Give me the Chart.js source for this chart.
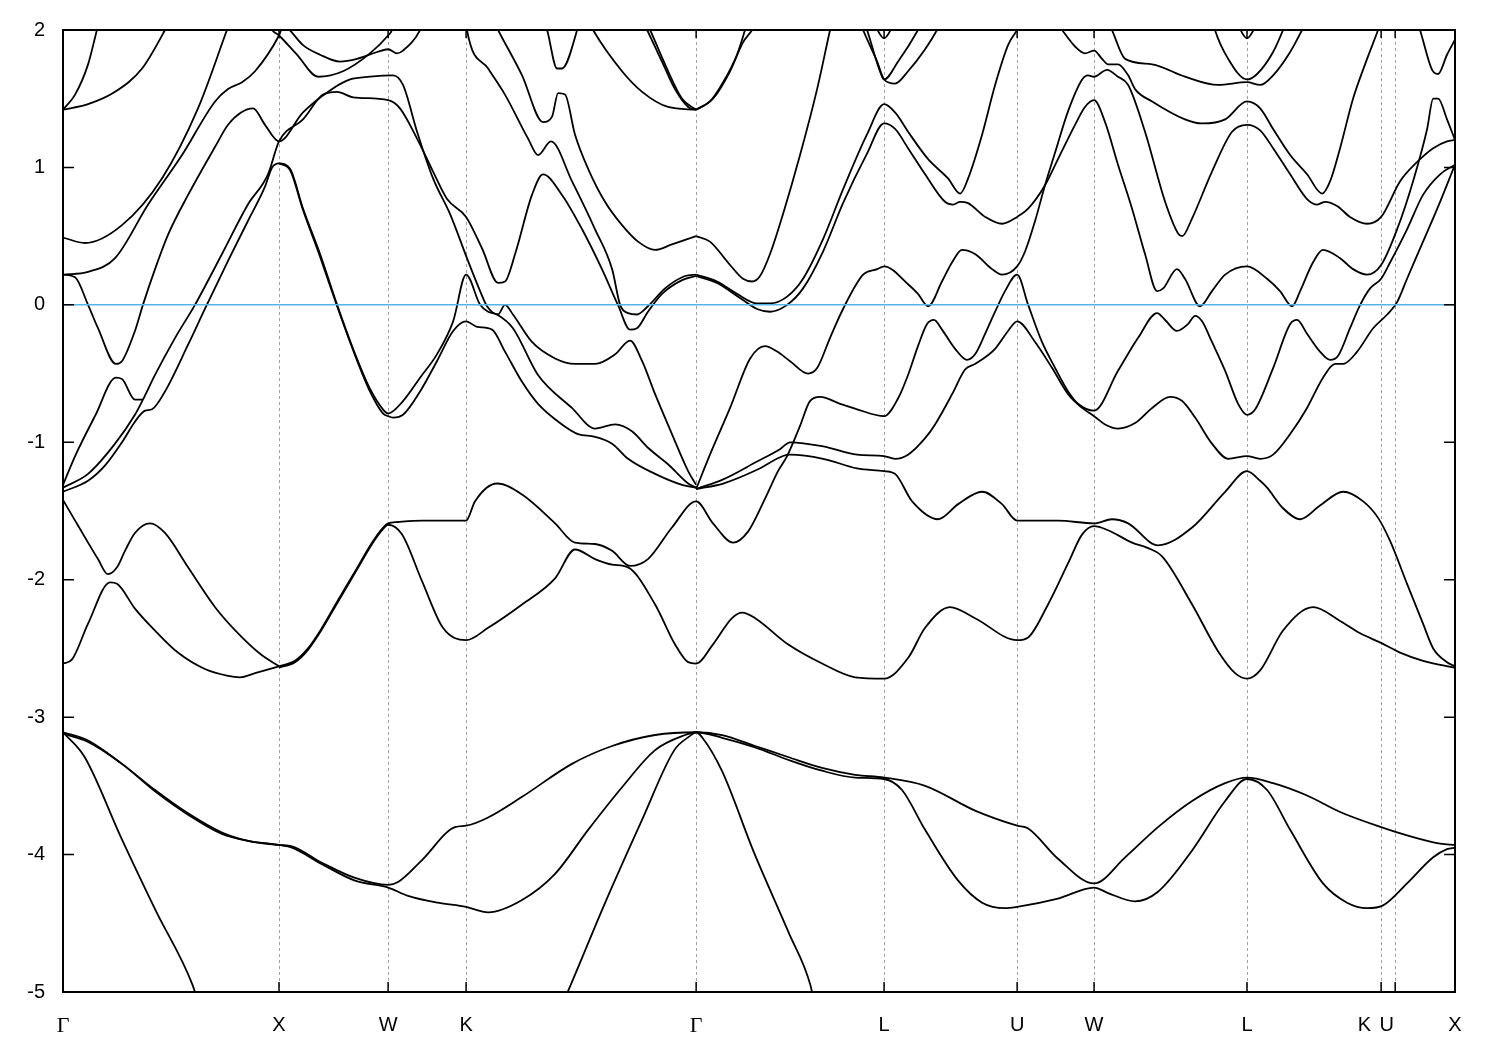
<!DOCTYPE html>
<html>
<head>
<meta charset="utf-8">
<script src="https://cdn.jsdelivr.net/npm/chart.js@4/dist/chart.umd.min.js"></script>
<style>
  html, body { margin: 0; padding: 0; background: #fff; }
  canvas { display: block; }
</style>
</head>
<body>
<canvas id="bands" width="1500" height="1050"></canvas>
<script>
// k path (2pi/a) and its labels
const kTicks = [0, 1.0, 1.505, 1.866, 2.931, 3.801, 4.417, 4.773, 5.481, 6.102, 6.167, 6.444];
const kLabels = ['Γ', 'X', 'W', 'K', 'Γ', 'L', 'U', 'W', 'L', 'K      ', 'U   ', 'X'];
const eTicks = [-5, -4, -3, -2, -1, 0, 1, 2];
const fermi = [[0, 0], [6.444, 0]];

// bands, [k, E(eV)]
const deep1 = [[0,-3.11],[0.10,-3.29],[0.27,-3.88],[0.43,-4.41],[0.60,-4.95],[0.63,-5.10]];
const deep2 = [[2.30,-5.13],[2.35,-4.95],[2.51,-4.35],[2.68,-3.75],[2.83,-3.24],[2.90,-3.14],[2.931,-3.11],[2.96,-3.15],[3.05,-3.39],[3.20,-3.99],[3.36,-4.57],[3.46,-4.95],[3.48,-5.10]];
const low1 = [[0,-3.11],[0.116,-3.17],[0.273,-3.34],[0.426,-3.53],[0.579,-3.70],[0.736,-3.84],[0.856,-3.90],[1.0,-3.93],[1.060,-3.94],[1.199,-4.06],[1.352,-4.17],[1.505,-4.22],[1.551,-4.20],[1.662,-4.04],[1.815,-3.80],[1.866,-3.79],[1.968,-3.73],[2.125,-3.58],[2.356,-3.34],[2.542,-3.21],[2.741,-3.13],[2.931,-3.11],[3.051,-3.13],[3.204,-3.21],[3.356,-3.29],[3.514,-3.37],[3.667,-3.42],[3.801,-3.44],[3.991,-3.50],[4.222,-3.68],[4.417,-3.79],[4.468,-3.81],[4.606,-4.03],[4.773,-4.21],[4.917,-4.02],[5.069,-3.80],[5.227,-3.61],[5.380,-3.48],[5.481,-3.44],[5.602,-3.48],[5.759,-3.57],[5.912,-3.69],[6.102,-3.80],[6.222,-3.86],[6.375,-3.92],[6.444,-3.93]];
const low2 = [[0,-3.12],[0.116,-3.18],[0.273,-3.34],[0.426,-3.54],[0.579,-3.71],[0.736,-3.85],[0.856,-3.90],[1.0,-3.93],[1.060,-3.95],[1.199,-4.07],[1.352,-4.19],[1.505,-4.24],[1.597,-4.30],[1.736,-4.35],[1.866,-4.38],[1.968,-4.42],[2.125,-4.33],[2.278,-4.14],[2.431,-3.82],[2.588,-3.51],[2.741,-3.24],[2.880,-3.13],[2.931,-3.11],[3.051,-3.15],[3.204,-3.22],[3.356,-3.31],[3.514,-3.39],[3.667,-3.44],[3.801,-3.45],[3.884,-3.53],[3.991,-3.82],[4.144,-4.19],[4.255,-4.35],[4.361,-4.39],[4.417,-4.38],[4.606,-4.32],[4.773,-4.24],[4.838,-4.28],[4.963,-4.34],[5.069,-4.27],[5.227,-3.97],[5.380,-3.61],[5.481,-3.45],[5.574,-3.53],[5.681,-3.82],[5.833,-4.21],[5.944,-4.35],[6.037,-4.39],[6.111,-4.37],[6.222,-4.21],[6.343,-4.02],[6.407,-3.96],[6.444,-3.95]];

const mid1 = [[0,-1.42],[0.056,-1.57],[0.116,-1.73],[0.162,-1.85],[0.208,-1.96],[0.250,-1.91],[0.287,-1.79],[0.333,-1.66],[0.403,-1.59],[0.472,-1.66],[0.579,-1.91],[0.704,-2.20],[0.829,-2.42],[0.921,-2.55],[1.0,-2.63]];
const mid2 = [[0,-2.61],[0.042,-2.58],[0.116,-2.32],[0.218,-2.02],[0.250,-2.03],[0.333,-2.21],[0.426,-2.37],[0.532,-2.53],[0.657,-2.65],[0.764,-2.70],[0.819,-2.71],[0.889,-2.68],[1.0,-2.63]];
const mid3 = [[1.0,-2.63],[1.074,-2.59],[1.134,-2.50],[1.199,-2.35],[1.273,-2.15],[1.352,-1.94],[1.431,-1.73],[1.477,-1.63],[1.505,-1.59],[1.551,-1.58],[1.662,-1.57],[1.866,-1.57],[1.907,-1.43],[2.009,-1.30],[2.125,-1.38],[2.278,-1.59],[2.370,-1.73],[2.463,-1.74],[2.542,-1.79],[2.625,-1.90],[2.708,-1.85],[2.819,-1.62],[2.931,-1.43],[3.009,-1.59],[3.102,-1.73],[3.171,-1.65],[3.250,-1.41],[3.310,-1.21],[3.352,-1.10],[3.412,-0.88],[3.458,-0.70],[3.505,-0.67],[3.597,-0.72],[3.676,-0.76],[3.801,-0.81],[3.866,-0.68],[3.912,-0.51],[3.958,-0.30],[4.0,-0.14],[4.032,-0.11],[4.069,-0.18],[4.130,-0.32],[4.185,-0.40],[4.222,-0.36],[4.269,-0.21],[4.315,-0.05],[4.361,0.10],[4.417,0.22],[4.468,0.00],[4.532,-0.27],[4.593,-0.46],[4.653,-0.63],[4.699,-0.72],[4.773,-0.77],[4.884,-0.48],[4.977,-0.24],[5.065,-0.06],[5.102,-0.11],[5.157,-0.19],[5.208,-0.14],[5.241,-0.08],[5.273,-0.12],[5.319,-0.27],[5.380,-0.48],[5.440,-0.72],[5.481,-0.80],[5.519,-0.76],[5.602,-0.46],[5.681,-0.14],[5.713,-0.11],[5.759,-0.21],[5.819,-0.34],[5.866,-0.40],[5.903,-0.37],[5.958,-0.17],[6.005,0.00],[6.051,0.12],[6.102,0.19],[6.144,0.31],[6.222,0.55],[6.296,0.80],[6.375,0.95],[6.444,1.02]];
const mid4 = [[1.0,-2.64],[1.074,-2.60],[1.134,-2.51],[1.199,-2.36],[1.273,-2.16],[1.352,-1.95],[1.431,-1.74],[1.477,-1.64],[1.505,-1.60],[1.569,-1.67],[1.662,-2.01],[1.759,-2.35],[1.866,-2.44],[1.968,-2.35],[2.125,-2.18],[2.278,-1.99],[2.370,-1.78],[2.463,-1.85],[2.542,-1.89],[2.616,-1.91],[2.741,-2.18],[2.833,-2.47],[2.894,-2.60],[2.931,-2.61],[3.005,-2.48],[3.097,-2.28],[3.144,-2.24],[3.204,-2.28],[3.356,-2.47],[3.514,-2.61],[3.667,-2.71],[3.801,-2.72],[3.912,-2.57],[3.991,-2.35],[4.106,-2.20],[4.222,-2.28],[4.417,-2.44],[4.468,-2.42],[4.560,-2.18],[4.653,-1.88],[4.718,-1.67],[4.773,-1.61],[4.838,-1.64],[4.949,-1.73],[5.023,-1.77],[5.088,-1.83],[5.227,-2.18],[5.347,-2.52],[5.426,-2.68],[5.481,-2.72],[5.542,-2.66],[5.648,-2.37],[5.787,-2.20],[5.912,-2.30],[6.005,-2.39],[6.102,-2.46],[6.190,-2.53],[6.296,-2.59],[6.444,-2.64]];
const flatA = [[2.931,-1.34],[3.056,-1.27],[3.213,-1.14],[3.319,-1.05],[3.366,-1.00],[3.519,-1.03],[3.676,-1.09],[3.801,-1.10],[3.852,-1.12],[3.912,-1.09],[3.991,-0.97],[4.037,-0.87],[4.116,-0.65],[4.176,-0.47],[4.222,-0.43],[4.315,-0.32],[4.375,-0.19],[4.417,-0.12],[4.5,-0.27],[4.579,-0.46],[4.653,-0.65],[4.718,-0.75],[4.773,-0.81],[4.824,-0.87],[4.884,-0.90],[4.963,-0.86],[5.042,-0.75],[5.125,-0.67],[5.181,-0.70],[5.241,-0.82],[5.319,-1.01],[5.394,-1.12],[5.481,-1.10],[5.542,-1.12],[5.602,-1.09],[5.681,-0.94],[5.759,-0.75],[5.833,-0.53],[5.889,-0.43],[5.926,-0.43],[5.991,-0.34],[6.065,-0.17],[6.130,-0.07],[6.176,0.02],[6.222,0.19],[6.296,0.46],[6.375,0.75],[6.444,1.02]];
const flatB = [[2.931,-1.34],[3.056,-1.30],[3.213,-1.20],[3.333,-1.10],[3.366,-1.09],[3.519,-1.12],[3.676,-1.19],[3.801,-1.21],[3.852,-1.23],[3.931,-1.43],[4.051,-1.56],[4.144,-1.45],[4.255,-1.36],[4.347,-1.45],[4.417,-1.57],[4.606,-1.57],[4.773,-1.59],[4.856,-1.56],[4.931,-1.59],[5.069,-1.75],[5.227,-1.62],[5.380,-1.36],[5.481,-1.21],[5.542,-1.28],[5.574,-1.33],[5.648,-1.48],[5.727,-1.56],[5.819,-1.46],[5.926,-1.36],[6.019,-1.43],[6.088,-1.55],[6.144,-1.72],[6.222,-2.03],[6.296,-2.32],[6.343,-2.50],[6.407,-2.60],[6.444,-2.63]];

const c6 = [[0,-1.36],[0.116,-1.28],[0.194,-1.17],[0.273,-1.00],[0.333,-0.85],[0.380,-0.77],[0.412,-0.76],[0.472,-0.63],[0.579,-0.29],[0.657,-0.03],[0.764,0.32],[0.856,0.61],[0.935,0.86],[0.968,1.00],[1.0,1.03],[1.051,0.99],[1.111,0.70],[1.190,0.37],[1.269,0.00],[1.343,-0.32],[1.421,-0.61],[1.481,-0.76],[1.505,-0.79],[1.574,-0.70],[1.653,-0.53],[1.731,-0.36],[1.806,-0.12],[1.866,0.22],[1.931,0.00],[1.968,-0.05],[2.009,-0.07],[2.083,-0.17],[2.199,-0.51],[2.356,-0.75],[2.463,-0.90],[2.556,-0.87],[2.634,-0.92],[2.708,-1.04],[2.801,-1.16],[2.894,-1.30],[2.931,-1.33]];
const c7 = [[0,-1.33],[0.116,-1.23],[0.241,-1.01],[0.333,-0.80],[0.370,-0.69],[0.426,-0.51],[0.519,-0.24],[0.611,0.00],[0.736,0.37],[0.856,0.73],[0.949,0.95],[1.0,1.19],[1.111,1.35],[1.204,1.53],[1.269,1.55],[1.343,1.51],[1.505,1.49],[1.560,1.43],[1.639,1.21],[1.713,0.97],[1.778,0.77],[1.866,0.64],[1.940,0.41],[2.014,0.16],[2.046,0.17],[2.093,0.37],[2.171,0.80],[2.222,0.95],[2.310,0.80],[2.403,0.55],[2.495,0.26],[2.569,0.00],[2.625,-0.18],[2.657,-0.17],[2.708,-0.05],[2.773,0.08],[2.866,0.18],[2.931,0.21]];
const c8 = [[0,-1.31],[0.056,-1.10],[0.148,-0.81],[0.245,-0.53],[0.273,-0.54],[0.333,-0.69],[0.370,-0.69]];
const vb = [[1.0,1.03],[1.051,0.98],[1.111,0.69],[1.190,0.35],[1.269,-0.01],[1.343,-0.33],[1.421,-0.63],[1.481,-0.79],[1.505,-0.81],[1.528,-0.82],[1.574,-0.80],[1.653,-0.63],[1.731,-0.41],[1.806,-0.19],[1.866,-0.12],[1.917,-0.16],[1.986,-0.18],[2.046,-0.34],[2.125,-0.56],[2.199,-0.72],[2.310,-0.87],[2.384,-0.94],[2.463,-0.96],[2.542,-1.01],[2.616,-1.12],[2.741,-1.23],[2.866,-1.31],[2.931,-1.33]];
const pA = [[0,0.22],[0.056,0.20],[0.116,0.00],[0.162,-0.17],[0.245,-0.43],[0.273,-0.41],[0.333,-0.19],[0.370,0.00],[0.426,0.26],[0.486,0.51],[0.579,0.80],[0.704,1.15],[0.764,1.31],[0.824,1.40],[0.880,1.43],[0.935,1.31],[1.0,1.19],[1.111,1.40],[1.236,1.56],[1.329,1.64],[1.421,1.66],[1.528,1.67],[1.574,1.60],[1.639,1.26],[1.713,0.92],[1.792,0.66],[1.870,0.34],[1.931,0.10],[1.963,-0.01],[2.014,-0.07],[2.046,0.00],[2.083,-0.07],[2.171,-0.27],[2.278,-0.39],[2.370,-0.43],[2.463,-0.43],[2.556,-0.36],[2.625,-0.26],[2.681,-0.41],[2.741,-0.65],[2.819,-0.94],[2.894,-1.21],[2.931,-1.31]];
const bandL4 = [[2.931,-1.34],[2.995,-1.09],[3.088,-0.75],[3.181,-0.39],[3.250,-0.30],[3.306,-0.34],[3.366,-0.41],[3.449,-0.50],[3.491,-0.46],[3.551,-0.24],[3.611,-0.03],[3.704,0.22],[3.769,0.26],[3.801,0.28],[3.912,0.15],[3.958,0.08],[4.005,-0.01],[4.069,0.17],[4.116,0.31],[4.162,0.40],[4.222,0.37],[4.301,0.26],[4.347,0.22],[4.417,0.28],[4.454,0.39],[4.5,0.61],[4.546,0.87],[4.593,1.11],[4.653,1.41],[4.718,1.64],[4.745,1.67],[4.773,1.66],[4.833,1.71],[4.884,1.66],[4.931,1.60],[5.009,1.26],[5.102,0.75],[5.162,0.52],[5.181,0.50],[5.227,0.63],[5.319,0.97],[5.412,1.26],[5.481,1.31],[5.542,1.27],[5.602,1.14],[5.681,0.95],[5.759,0.77],[5.806,0.73],[5.843,0.75],[5.898,0.72],[5.958,0.64],[6.037,0.59],[6.102,0.64],[6.190,0.90],[6.269,1.04],[6.343,1.14],[6.407,1.19],[6.444,1.20]];
const bandLB = [[2.931,0.21],[3.028,0.16],[3.134,0.05],[3.213,-0.03],[3.273,-0.05],[3.352,0.00],[3.426,0.12],[3.519,0.39],[3.611,0.74],[3.722,1.10],[3.801,1.32],[3.852,1.28],[3.912,1.14],[3.991,0.95],[4.083,0.75],[4.120,0.73],[4.153,0.75],[4.190,0.74],[4.269,0.64],[4.347,0.59],[4.417,0.64],[4.468,0.70],[4.546,0.87],[4.606,1.06],[4.685,1.31],[4.731,1.44],[4.773,1.49],[4.824,1.33],[4.884,1.02],[4.949,0.70],[5.009,0.37],[5.065,0.10],[5.093,0.12],[5.157,0.26],[5.194,0.19],[5.264,-0.01],[5.319,0.10],[5.380,0.22],[5.481,0.28],[5.574,0.19],[5.634,0.10],[5.690,-0.01],[5.727,0.10],[5.787,0.31],[5.833,0.40],[5.912,0.34],[5.972,0.26],[6.037,0.22],[6.102,0.29],[6.176,0.55],[6.25,0.90],[6.315,1.28],[6.343,1.50],[6.366,1.50],[6.407,1.35],[6.444,1.20]];
const bandLA = [[2.931,0.22],[3.028,0.17],[3.120,0.08],[3.213,0.01],[3.273,0.01],[3.352,0.06],[3.426,0.19],[3.519,0.48],[3.611,0.84],[3.722,1.24],[3.801,1.46],[3.852,1.40],[3.912,1.26],[4.005,1.06],[4.097,0.92],[4.153,0.81],[4.190,0.92],[4.255,1.24],[4.315,1.60],[4.375,1.89],[4.417,2.00],[4.431,2.04]];

// upper bands, mostly leaving the window at 2 eV
const gx1 = [[0,1.42],[0.056,1.53],[0.116,1.75],[0.157,2.00],[0.167,2.06]];
const gx2 = [[0,1.42],[0.116,1.46],[0.241,1.55],[0.366,1.72],[0.472,2.00],[0.491,2.06]];
const gx05 = [[0,0.49],[0.102,0.45],[0.273,0.58],[0.458,0.92],[0.625,1.43],[0.759,2.00],[0.773,2.06]];
const a2 = [[0,0.22],[0.116,0.24],[0.241,0.34],[0.394,0.73],[0.551,1.09],[0.704,1.48],[0.764,1.57],[0.829,1.62],[0.889,1.70],[1.0,1.96],[1.019,2.03],[1.042,2.01],[1.111,1.89],[1.190,1.82],[1.282,1.77],[1.361,1.79],[1.454,1.84],[1.505,1.86],[1.546,1.83],[1.574,1.85],[1.653,2.00],[1.667,2.06]];
const r1 = [[0.949,2.06],[0.968,2.00],[1.0,1.96],[1.083,1.82],[1.181,1.66],[1.296,1.70],[1.421,1.83],[1.505,1.96],[1.523,2.00],[1.532,2.06]];
const k1 = [[1.866,2.06],[1.870,2.00],[1.968,1.72],[2.046,1.53],[2.153,1.21],[2.199,1.09],[2.259,1.19],[2.356,0.90],[2.463,0.55],[2.542,0.26],[2.579,0.00],[2.616,-0.06],[2.657,-0.07],[2.708,-0.01],[2.787,0.12],[2.880,0.21],[2.931,0.22]];
const k2 = [[1.995,2.06],[2.014,2.00],[2.125,1.67],[2.222,1.33],[2.264,1.37],[2.292,1.54],[2.324,1.53],[2.370,1.24],[2.431,0.99],[2.509,0.75],[2.588,0.58],[2.662,0.46],[2.741,0.40],[2.819,0.44],[2.931,0.50]];
const k3 = [[2.227,2.06],[2.241,2.00],[2.287,1.72],[2.310,1.72],[2.380,2.00],[2.389,2.06]];
const k4 = [[2.435,2.06],[2.454,2.00],[2.588,1.70],[2.681,1.55],[2.801,1.44],[2.931,1.42]];
const k5a = [[2.685,2.06],[2.704,2.00],[2.773,1.77],[2.833,1.57],[2.894,1.44],[2.931,1.42]];
const k5b = [[2.699,2.06],[2.718,2.00],[2.787,1.75],[2.866,1.50],[2.931,1.42]];
const gl1 = [[2.931,1.42],[2.995,1.48],[3.056,1.62],[3.120,1.82],[3.157,2.00],[3.167,2.06]];
const gl2 = [[2.931,1.42],[3.009,1.50],[3.088,1.70],[3.148,1.91],[3.190,2.00],[3.204,2.04]];
const gl05 = [[2.931,0.50],[2.995,0.46],[3.088,0.29],[3.148,0.19],[3.190,0.17],[3.227,0.21],[3.273,0.37],[3.333,0.66],[3.412,1.09],[3.491,1.57],[3.551,2.00],[3.560,2.06]];
const tl1 = [[3.690,2.06],[3.704,2.00],[3.769,1.77],[3.801,1.64],[3.852,1.61],[3.912,1.70],[3.991,1.86],[4.046,2.00],[4.065,2.06]];
const tl2 = [[3.708,2.06],[3.722,2.00],[3.782,1.70],[3.801,1.64],[3.866,1.77],[3.958,2.00],[3.977,2.06]];
const capL1 = [[3.75,2.06],[3.801,1.94],[3.852,2.06]];
const w1 = [[4.606,2.04],[4.625,2.00],[4.685,1.88],[4.731,1.83],[4.773,1.85],[4.810,1.79],[4.838,1.75],[4.884,1.75],[4.931,1.67],[4.963,1.57],[5.042,1.48],[5.194,1.35],[5.273,1.32],[5.380,1.35],[5.481,1.48],[5.542,1.43],[5.602,1.28],[5.681,1.09],[5.759,0.95],[5.829,0.81],[5.866,0.90],[5.912,1.14],[5.972,1.50],[6.037,1.79],[6.088,2.00],[6.097,2.04]];
const w3 = [[4.838,2.06],[4.856,2.00],[4.917,1.79],[5.042,1.75],[5.194,1.66],[5.347,1.60],[5.481,1.62],[5.542,1.60],[5.602,1.67],[5.681,1.84],[5.736,2.00],[5.755,2.06]];
const arcL2 = [[5.324,2.06],[5.333,2.00],[5.394,1.79],[5.481,1.64],[5.528,1.68],[5.602,1.84],[5.648,2.00],[5.662,2.06]];
const capL2 = [[5.431,2.06],[5.481,1.94],[5.532,2.06]];
const ux = [[6.269,2.06],[6.282,2.00],[6.338,1.71],[6.366,1.68],[6.407,1.82],[6.444,1.93]];

const bands = [deep1, deep2, low1, low2, mid1, mid2, mid3, mid4, flatA, flatB,
  c6, c7, c8, vb, pA, bandL4, bandLB, bandLA,
  gx1, gx2, gx05, a2, r1, k1, k2, k3, k4, k5a, k5b, gl1, gl2, gl05,
  tl1, tl2, capL1, w1, w3, arcL2, capL2, ux];

const datasets = bands.map((b) => ({
  data: b,
  borderColor: '#000000',
  borderWidth: 1.8,
  pointRadius: 0,
  fill: false,
  cubicInterpolationMode: 'monotone'
}));

datasets.push({
  data: fermi,
  borderColor: '#56B4E9',
  borderWidth: 1.5,
  pointRadius: 0,
  order: -1
});

// dashed k-point lines, mirrored inward ticks and the frame
const frame = {
  id: 'frame',
  beforeDatasetsDraw(chart) {
    const { ctx, chartArea: a, scales: { x } } = chart;
    ctx.save();
    ctx.strokeStyle = '#a0a0a0';
    ctx.lineWidth = 1;
    ctx.setLineDash([3, 3]);
    kTicks.forEach((k) => {
      const px = Math.round(x.getPixelForValue(k)) + 0.5;
      ctx.beginPath();
      ctx.moveTo(px, a.top);
      ctx.lineTo(px, a.bottom);
      ctx.stroke();
    });
    ctx.restore();
  },
  afterDatasetsDraw(chart) {
    const { ctx, chartArea: a, scales: { x, y } } = chart;
    ctx.save();
    ctx.strokeStyle = '#000';
    ctx.lineWidth = 1.5;
    ctx.beginPath();
    eTicks.forEach((e) => {
      const py = y.getPixelForValue(e);
      ctx.moveTo(a.left, py); ctx.lineTo(a.left + 11, py);
      ctx.moveTo(a.right, py); ctx.lineTo(a.right - 11, py);
    });
    kTicks.forEach((k) => {
      const px = x.getPixelForValue(k);
      ctx.moveTo(px, a.bottom); ctx.lineTo(px, a.bottom - 10);
      ctx.moveTo(px, a.top); ctx.lineTo(px, a.top + 8);
    });
    ctx.stroke();
    ctx.lineWidth = 2;
    ctx.strokeRect(a.left, a.top, a.right - a.left, a.bottom - a.top);
    ctx.restore();
  }
};

new Chart(document.getElementById('bands'), {
  type: 'line',
  data: { datasets: datasets },
  options: {
    responsive: false,
    animation: false,
    events: [],
    layout: { padding: { top: 28, right: 45, left: 0, bottom: 0 } },
    plugins: { legend: { display: false }, tooltip: { enabled: false } },
    scales: {
      x: {
        type: 'linear',
        min: 0,
        max: 6.444,
        grid: { display: false, drawTicks: false },
        border: { display: false },
        afterBuildTicks: (scale) => { scale.ticks = kTicks.map((v) => ({ value: v })); },
        afterFit: (scale) => { scale.height = 58; },
        ticks: {
          autoSkip: false,
          maxRotation: 0,
          padding: 21,
          color: '#000',
          font: (ctx) => (ctx.index === 0 || ctx.index === 4)
            ? { family: 'Liberation Serif', size: 22 }
            : { family: 'Liberation Sans', size: 20 },
          callback: (value, index) => kLabels[index]
        }
      },
      y: {
        min: -5,
        max: 2,
        grid: { display: false, drawTicks: false },
        border: { display: false },
        afterFit: (scale) => { scale.width = 63; },
        ticks: {
          stepSize: 1,
          padding: 18,
          color: '#000',
          font: { family: 'Liberation Sans', size: 20 }
        }
      }
    }
  },
  plugins: [frame]
});
</script>
</body>
</html>
